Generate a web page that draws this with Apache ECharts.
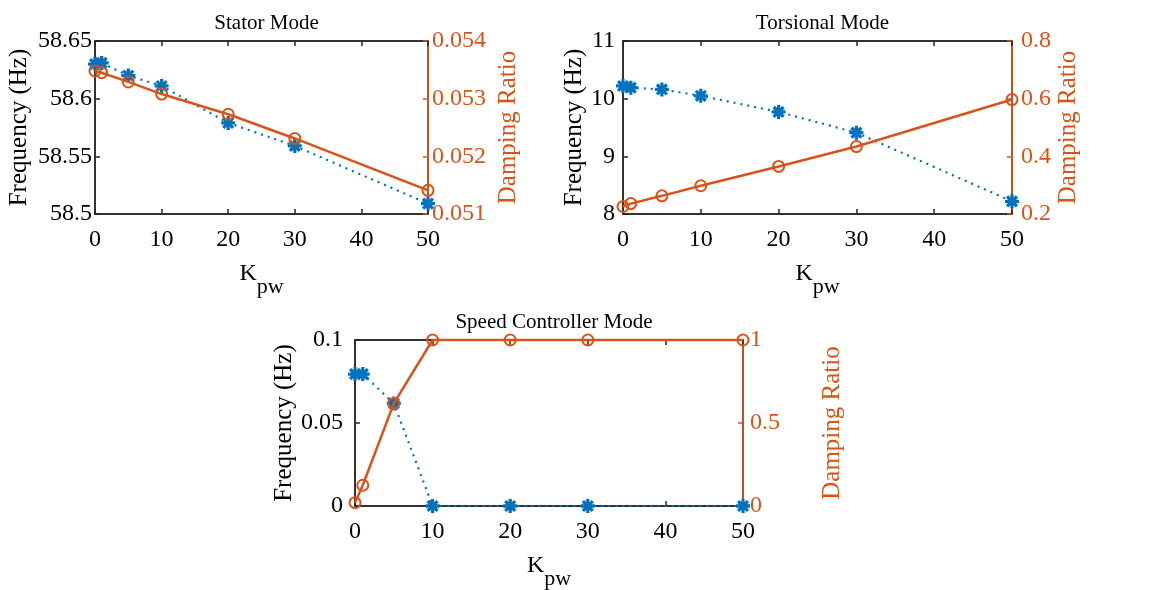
<!DOCTYPE html>
<html>
<head>
<meta charset="utf-8">
<title>Kpw sweep</title>
<script src="https://cdn.jsdelivr.net/npm/echarts@6/dist/echarts.min.js"></script>
<style>
  html, body { margin: 0; padding: 0; background: #fff; }
  #chart { width: 1149px; height: 590px; }
</style>
</head>
<body>
<div id="chart"></div>
<script>
// 数据
const kpw = [0, 1, 5, 10, 20, 30, 50];
const xTicks = [0, 10, 20, 30, 40, 50];
const panelTitles = ['Stator Mode', 'Torsional Mode', 'Speed Controller Mode'];

const statorFreq = [58.630, 58.631, 58.620, 58.611, 58.579, 58.559, 58.509];
const statorDamp = [0.05348, 0.05345, 0.05329, 0.05308, 0.05273, 0.05231, 0.05141];

const torsionalFreq = [10.22, 10.19, 10.16, 10.05, 9.77, 9.41, 8.22];
const torsionalDamp = [0.226, 0.236, 0.263, 0.298, 0.365, 0.434, 0.597];

const speedFreq = [0.0795, 0.0795, 0.0618, 0, 0, 0, 0];
const speedDamp = [0.02, 0.125, 0.618, 1, 1, 1, 1];

// 左/右轴范围 [min, max, interval]
const freqRanges = [[58.5, 58.65, 0.05], [8, 11, 1], [0, 0.1, 0.05]];
const dampRanges = [[0.051, 0.054, 0.001], [0.2, 0.8, 0.2], [0, 1, 0.5]];

const BLUE = '#0072BD';
const ORANGE = '#D95319';
const AXIS = '#262626';
const FONT = "'Liberation Serif', 'Times New Roman', serif";

// MATLAB 风格的星号 marker（同方向的四个细长矩形）
const ASTERISK = 'path://M-1.4,-6 L1.4,-6 L1.4,6 L-1.4,6 Z M-6,-1.4 L6,-1.4 L6,1.4 L-6,1.4 Z ' +
    'M-3.25,-5.23 L5.23,3.25 L3.25,5.23 L-5.23,-3.25 Z ' +
    'M-5.23,3.25 L3.25,-5.23 L5.23,-3.25 L-3.25,5.23 Z';

// 版面位置
const layout = [
    { grid: { left: 95, top: 41, width: 333, height: 173 }, lMargin: 3, rMargin: 4, lGap: 63, rGap: 68 },
    { grid: { left: 623, top: 41, width: 389, height: 173 }, lMargin: 8, rMargin: 9, lGap: 33, rGap: 44 },
    { grid: { left: 355, top: 340, width: 388, height: 166 }, lMargin: 12, rMargin: 7, lGap: 52, rGap: 77 }
];

const panels = [
    { freq: statorFreq, damp: statorDamp },
    { freq: torsionalFreq, damp: torsionalDamp },
    { freq: speedFreq, damp: speedDamp }
];

const grids = [], xAxes = [], yAxes = [], series = [], titles = [];

panels.forEach((p, i) => {
    const L = layout[i];
    grids.push(Object.assign({
        show: true, borderColor: AXIS, borderWidth: 1.5, backgroundColor: 'transparent',
        containLabel: false, outerBoundsMode: 'none'
    }, L.grid));

    titles.push({
        text: panelTitles[i],
        left: L.grid.left + L.grid.width / 2,
        top: L.grid.top - 33,
        textAlign: 'center',
        textStyle: { fontFamily: FONT, fontSize: 21, fontWeight: 'normal', color: '#000' }
    });

    // 底部 x 轴
    xAxes.push({
        type: 'value', gridIndex: i, position: 'bottom',
        min: xTicks[0], max: xTicks[xTicks.length - 1], interval: 10,
        name: '{k|K}{s|pw}', nameLocation: 'middle', nameGap: 48,
        nameTextStyle: {
            rich: {
                k: { fontFamily: FONT, fontSize: 24, color: '#000', verticalAlign: 'top', lineHeight: 36 },
                s: { fontFamily: FONT, fontSize: 22, color: '#000', verticalAlign: 'bottom', lineHeight: 36 }
            }
        },
        axisLine: { show: true, onZero: false, lineStyle: { color: AXIS, width: 1.5 } },
        axisTick: { show: true, inside: true, length: 5, lineStyle: { color: AXIS, width: 1.5 } },
        axisLabel: { fontFamily: FONT, fontSize: 24, color: '#000', margin: 14 },
        splitLine: { show: false }
    });
    // 顶部 x 轴（只画刻度）
    xAxes.push({
        type: 'value', gridIndex: i, position: 'top',
        min: xTicks[0], max: xTicks[xTicks.length - 1], interval: 10,
        axisLine: { show: true, onZero: false, lineStyle: { color: AXIS, width: 1.5 } },
        axisTick: { show: true, inside: true, length: 5, lineStyle: { color: AXIS, width: 1.5 } },
        axisLabel: { show: false },
        splitLine: { show: false }
    });

    const fr = freqRanges[i], dr = dampRanges[i];
    yAxes.push({
        type: 'value', gridIndex: i, position: 'left',
        min: fr[0], max: fr[1], interval: fr[2],
        name: 'Frequency (Hz)', nameLocation: 'middle', nameGap: L.lGap, nameRotate: 90,
        nameTextStyle: { fontFamily: FONT, fontSize: 25, color: '#000' },
        axisLine: { show: true, onZero: false, lineStyle: { color: AXIS, width: 1.5 } },
        axisTick: { show: true, inside: true, length: 5, lineStyle: { color: AXIS, width: 1.5 } },
        axisLabel: { fontFamily: FONT, fontSize: 24, color: '#000', margin: L.lMargin },
        splitLine: { show: false }
    });
    yAxes.push({
        type: 'value', gridIndex: i, position: 'right',
        min: dr[0], max: dr[1], interval: dr[2],
        name: 'Damping Ratio', nameLocation: 'middle', nameGap: L.rGap, nameRotate: 90,
        nameTextStyle: { fontFamily: FONT, fontSize: 25, color: ORANGE },
        axisLine: { show: true, onZero: false, lineStyle: { color: ORANGE, width: 1.5 } },
        axisTick: { show: true, inside: true, length: 5, lineStyle: { color: ORANGE, width: 1.5 } },
        axisLabel: { fontFamily: FONT, fontSize: 24, color: ORANGE, margin: L.rMargin },
        splitLine: { show: false }
    });

    series.push({
        type: 'line', xAxisIndex: i * 2, yAxisIndex: i * 2,
        data: kpw.map((k, j) => [k, p.freq[j]]),
        symbol: ASTERISK, symbolSize: 14, clip: false,
        lineStyle: { color: BLUE, width: 2.2, type: [2, 5] },
        itemStyle: { color: BLUE },
        z: 3
    });
    series.push({
        type: 'line', xAxisIndex: i * 2, yAxisIndex: i * 2 + 1,
        data: kpw.map((k, j) => [k, p.damp[j]]),
        symbol: 'circle', symbolSize: 11, clip: false,
        lineStyle: { color: ORANGE, width: 2.5 },
        itemStyle: { color: 'transparent', borderColor: ORANGE, borderWidth: 2 },
        z: 4
    });
});

const chart = echarts.init(document.getElementById('chart'), null, { renderer: 'canvas' });
chart.setOption({
    animation: false,
    backgroundColor: '#fff',
    title: titles,
    grid: grids,
    xAxis: xAxes,
    yAxis: yAxes,
    series: series
});
</script>
</body>
</html>
